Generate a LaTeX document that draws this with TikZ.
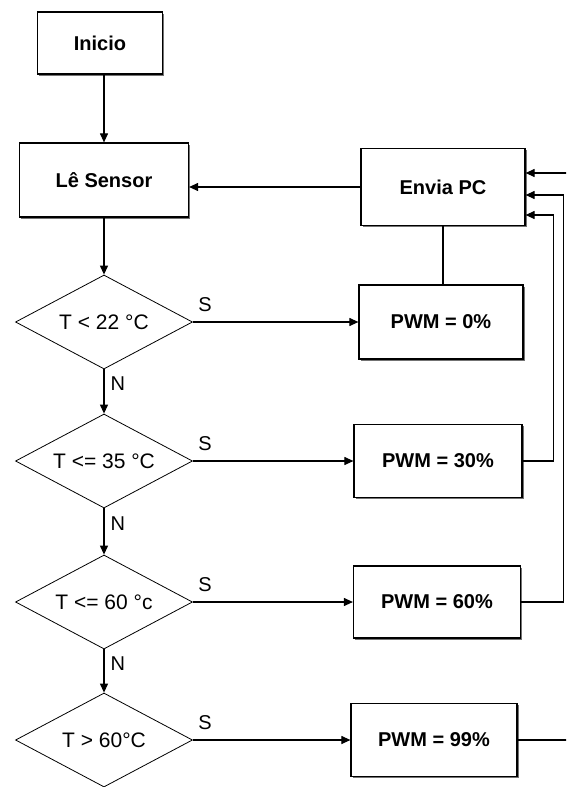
\documentclass[tikz,border=0pt]{standalone}
\usepackage{fontspec}
\setmainfont{Liberation Sans}
\usepackage{tikz}
\usetikzlibrary{arrows.meta,shapes.geometric,shadows}

\begin{document}
\begin{tikzpicture}[
  x=1pt,y=-1pt,
  every node/.style={align=center},
  block/.style={draw,fill=white,line width=1.2pt,inner sep=0pt,
                font=\fontsize{20}{24}\selectfont\bfseries,
                drop shadow={shadow xshift=1.6pt,shadow yshift=-1.6pt,fill=black!55,opacity=1}},
  test/.style={draw,diamond,aspect=1.9,inner sep=0pt,line width=0.8pt,
               minimum width=177pt,minimum height=94pt,
               font=\fontsize{21}{24}\selectfont},
  lbl/.style={font=\fontsize{20}{22}\selectfont,inner sep=0pt},
  arr/.style={-{Triangle[length=9pt,width=8pt]},line width=1.1pt}
]
  \useasboundingbox (0,0) rectangle (566,787);
  \clip (0,0) rectangle (566,787);
  \fill[white] (0,0) rectangle (566,787);

  \node[block,minimum width=125pt,minimum height=62pt] (ini) at (100,43) {Inicio};
  \node[block,minimum width=169pt,minimum height=74pt] (sen) at (104,180) {Lê Sensor};
  \node[block,minimum width=164pt,minimum height=77pt] (env) at (443,187) {Envia PC};

  \node[test] (t22) at (104,322) {T < 22 °C};
  \node[test] (t35) at (104,461) {T <= 35 °C};
  \node[test] (t60) at (104,602) {T <= 60 °c};
  \node[test] (t99) at (104,740) {T > 60°C};

  \node[block,minimum width=164pt,minimum height=74pt] (p0) at (441,322) {PWM = 0\%};
  \node[block,minimum width=168pt,minimum height=73pt] (p30) at (438,461) {PWM = 30\%};
  \node[block,minimum width=167pt,minimum height=72pt] (p60) at (437,602) {PWM = 60\%};
  \node[block,minimum width=166pt,minimum height=73pt] (p99) at (434,740) {PWM = 99\%};

  \draw[arr] (ini.south -| sen.north) -- (sen.north);
  \draw[arr] (sen.south) -- (t22.north);
  \draw[arr] (env.west) -- (env.west -| sen.east);
  \draw[line width=1.1pt] (env.south) -- (env.south |- p0.north);

  \draw[arr] (t22.east) -- node[lbl,pos=0,anchor=south west,xshift=5pt,yshift=10pt] {S} (p0.west);
  \draw[arr] (t35.east) -- node[lbl,pos=0,anchor=south west,xshift=5pt,yshift=10pt] {S} (p30.west);
  \draw[arr] (t60.east) -- node[lbl,pos=0,anchor=south west,xshift=5pt,yshift=10pt] {S} (p60.west);
  \draw[arr] (t99.east) -- node[lbl,pos=0,anchor=south west,xshift=5pt,yshift=10pt] {S} (p99.west);

  \draw[arr] (t22.south) -- node[lbl,pos=0.32,right=6pt] {N} (t35.north);
  \draw[arr] (t35.south) -- node[lbl,pos=0.32,right=6pt] {N} (t60.north);
  \draw[arr] (t60.south) -- node[lbl,pos=0.32,right=6pt] {N} (t99.north);

  \draw[arr] (p30.east) -- ++(31,0) |- ([yshift=-28pt]env.east);
  \draw[arr] (p60.east) -- ++(42,0) |- ([yshift=-8pt]env.east);
  \draw[arr] (p99.east) -- ++(80,0) |- ([yshift=14pt]env.east);
\end{tikzpicture}
\end{document}
